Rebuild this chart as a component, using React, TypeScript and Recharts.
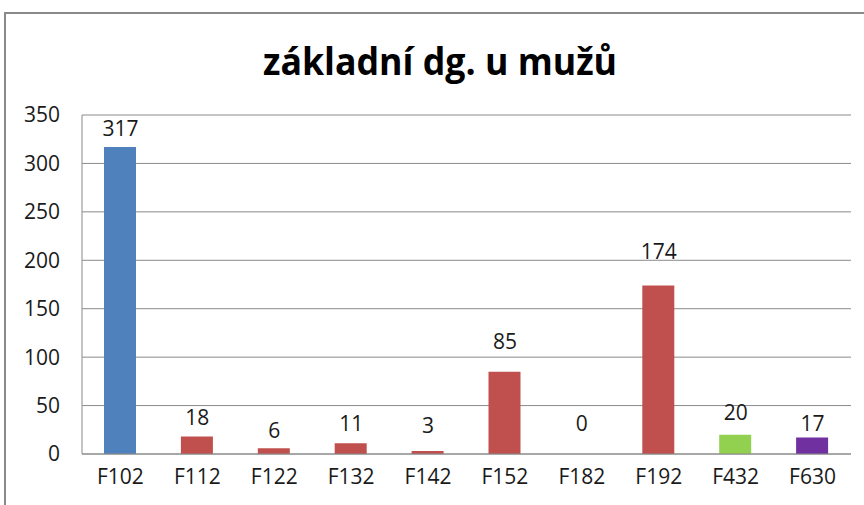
import { ComposedChart, Bar, Line, XAxis, YAxis, CartesianGrid, Cell } from 'recharts';

const categories = ['F102', 'F112', 'F122', 'F132', 'F142', 'F152', 'F182', 'F192', 'F432', 'F630'];
const counts = [317, 18, 6, 11, 3, 85, 0, 174, 20, 17];
const yTicks = [0, 50, 100, 150, 200, 250, 300, 350];

const barColors = ['#4F81BD', '#C0504D', '#C0504D', '#C0504D', '#C0504D', '#C0504D', '#C0504D', '#C0504D', '#92D050', '#7030A0'];
// distance from bar top to label baseline, the labels sit at uneven heights in the original
const labelGaps = [10.5, 12, 10, 12, 18, 23, 23, 26, 15, 7];

const data = categories.map((name, i) => ({ name, count: counts[i] }));

const FONT = '"Open Sans", "Noto Sans", sans-serif';

// labels hang off an invisible line so the zero bar gets one too
function ValueLabel(props: any) {
  const { x, y, index } = props;
  return (
    <text
      x={x}
      y={y - labelGaps[index]}
      textAnchor="middle"
      fontFamily={FONT}
      fontSize={21}
      fill="#1a1a1a"
    >
      {counts[index]}
    </text>
  );
}

export default function App() {
  return (
    <div
      style={{
        position: 'absolute',
        left: 0,
        top: 0,
        width: 864,
        height: 505,
        overflow: 'hidden',
        background: '#fff',
      }}
    >
      <div
        style={{
          position: 'absolute',
          left: 4,
          top: 12,
          width: 1000,
          height: 1000,
          border: '2px solid #898989',
        }}
      />
      <svg width={864} height={110} style={{ position: 'absolute', left: 0, top: 0 }}>
        <text
          x={263}
          y={75}
          textLength={354}
          lengthAdjust="spacingAndGlyphs"
          fontFamily={FONT}
          fontWeight={700}
          fontSize={38}
          fill="#000"
        >
          základní dg. u mužů
        </text>
      </svg>
      <div style={{ position: 'absolute', left: 0, top: 0 }}>
        <ComposedChart
          width={864}
          height={505}
          data={data}
          margin={{ top: 115, right: 13, bottom: 11, left: 0 }}
          barSize={32}
        >
          <CartesianGrid vertical={false} stroke="#8a8a8a" />
          <XAxis
            dataKey="name"
            height={40}
            tickLine={false}
            tickSize={0}
            tickMargin={15}
            stroke="#8a8a8a"
            interval={0}
            tick={{ fill: '#1a1a1a', fontSize: 21, fontFamily: FONT }}
          />
          <YAxis
            width={82}
            domain={[0, 350]}
            ticks={yTicks}
            tickLine={false}
            tickSize={0}
            tickMargin={22}
            stroke="#8a8a8a"
            tick={{ fill: '#1a1a1a', fontSize: 21, fontFamily: FONT }}
          />
          <Bar dataKey="count" isAnimationActive={false}>
            {data.map((d, i) => (
              <Cell key={d.name} fill={barColors[i]} />
            ))}
          </Bar>
          <Line
            dataKey="count"
            stroke="none"
            dot={false}
            activeDot={false}
            isAnimationActive={false}
            label={ValueLabel}
          />
        </ComposedChart>
      </div>
    </div>
  );
}
